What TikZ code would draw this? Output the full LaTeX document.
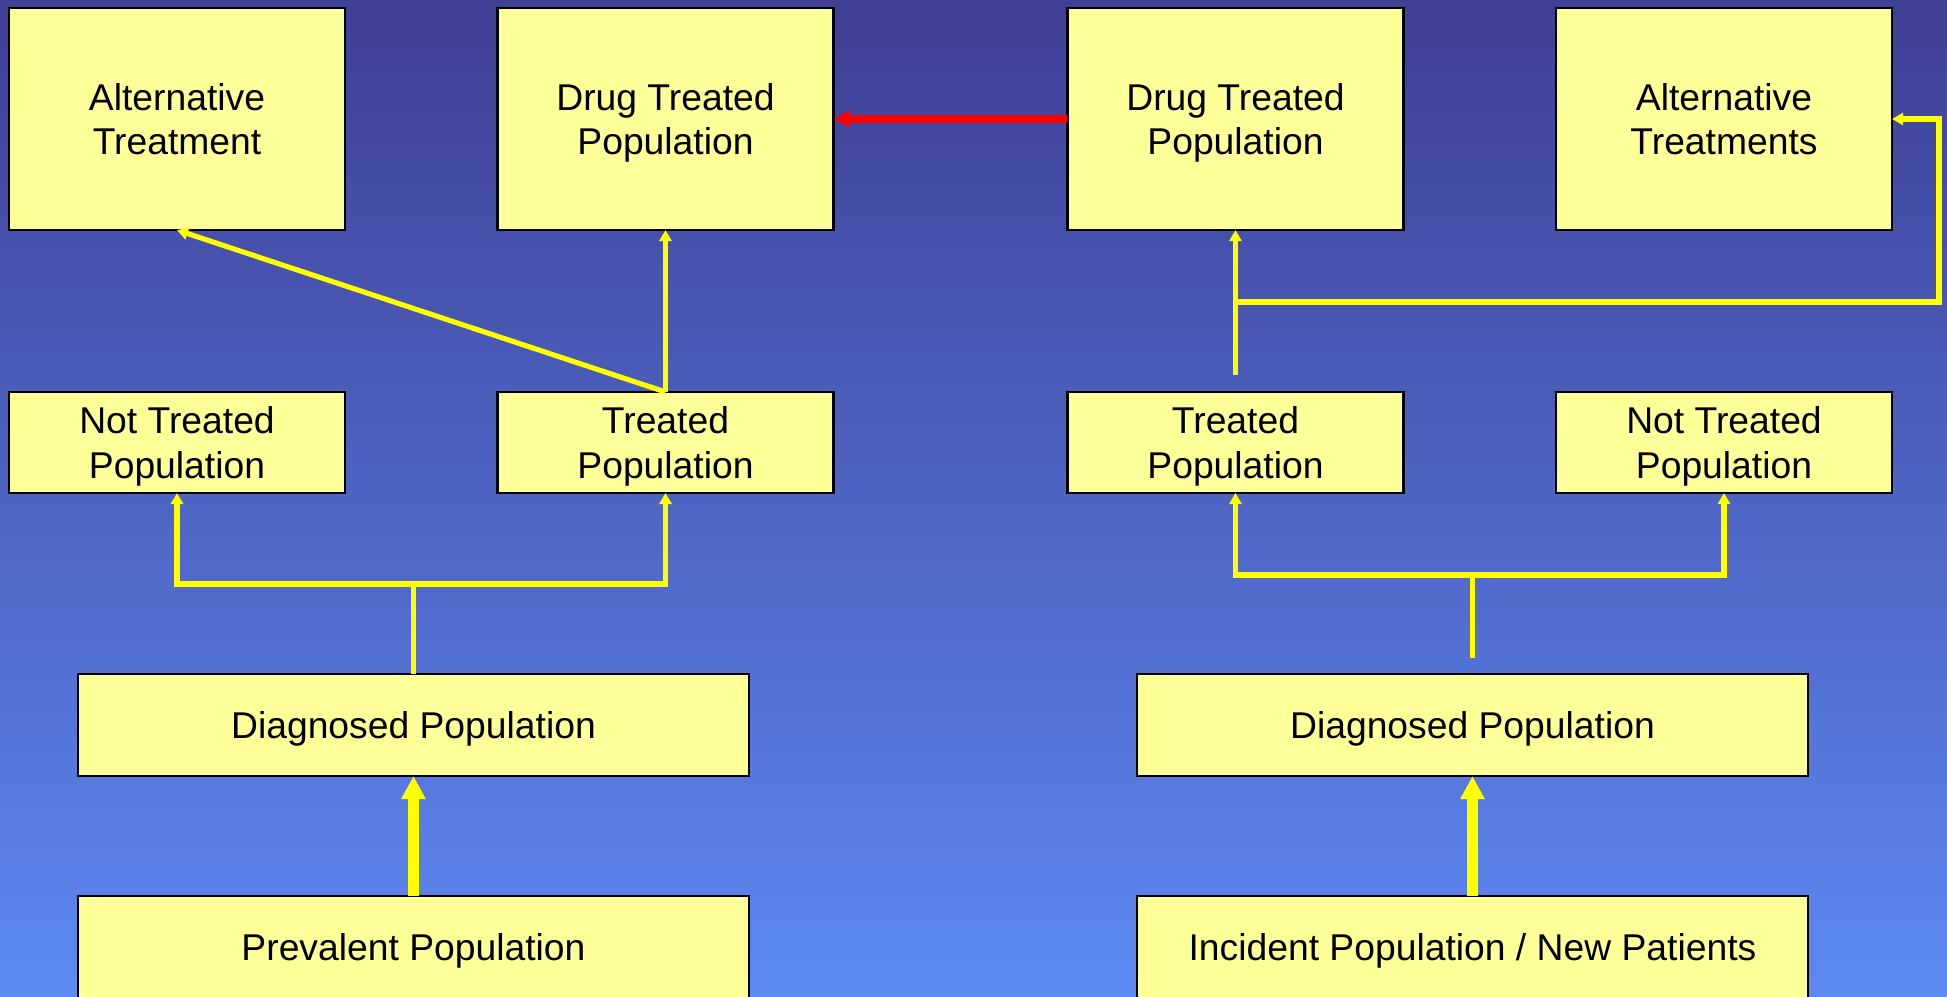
\documentclass[tikz,border=0pt]{standalone}
\usepackage{fontspec}
\setmainfont{Liberation Sans}
\usetikzlibrary{arrows.meta}
\definecolor{bgtop}{RGB}{63,63,148}
\definecolor{bgbottom}{RGB}{93,137,243}
\definecolor{boxfill}{RGB}{255,255,153}
\definecolor{flowyellow}{RGB}{255,255,0}
\definecolor{flowred}{RGB}{255,0,0}
\begin{document}
\begin{tikzpicture}[x=0.01cm,y=-0.01cm,
  popbox/.style={draw=black,line width=0.7pt,fill=boxfill,align=center,
    font=\fontsize{10.6pt}{12.7pt}\selectfont,inner sep=0pt,outer sep=0pt,
    text depth=0pt},
  bigbox/.style={popbox,minimum width=3.36cm,minimum height=2.22cm},
  midbox/.style={popbox,minimum width=3.36cm,minimum height=1.01cm},
  widebox/.style={popbox,minimum width=6.71cm,minimum height=1.02cm},
  conn/.style={draw=flowyellow,line width=1.45pt,line join=miter},
  tip/.style={-{Triangle[length=0.11cm,width=0.12cm]}},
  fatarrow/.style={draw=flowyellow,line width=3.4pt,-{Triangle[length=0.23cm,width=0.23cm]}},
  redarrow/.style={draw=flowred,line width=2.3pt,-{Triangle[length=0.16cm,width=0.16cm]}}]

% background
\useasboundingbox (0,0) rectangle (1947,996);
\shade[top color=bgtop,bottom color=bgbottom] (0,0) rectangle (1947,996);

% prevalent side
\node[bigbox]  (alt1)   at (177,119)    {Alternative\\Treatment};
\node[bigbox]  (drug1)  at (665.5,119)  {Drug Treated\\Population};
\node[midbox]  (not1)   at (177,442.5)  {Not Treated\\Population};
\node[midbox]  (treat1) at (665.5,442.5){Treated\\Population};
\node[widebox] (diag1)  at (413.5,725)  {Diagnosed Population};
\node[widebox] (prev1)  at (413.5,947)  {Prevalent Population};

% incident side
\node[bigbox]  (drug2)  at (1235.5,119) {Drug Treated\\Population};
\node[bigbox]  (alt2)   at (1724,119)   {Alternative\\Treatments};
\node[midbox]  (treat2) at (1235.5,442.5){Treated\\Population};
\node[midbox]  (not2)   at (1724,442.5) {Not Treated\\Population};
\node[widebox] (diag2)  at (1472.5,725) {Diagnosed Population};
\node[widebox] (inc2)   at (1472.5,947) {Incident Population / New Patients};

% junction points
\coordinate (j1) at (413.5,584);
\coordinate (j2) at (1472.5,575);
\coordinate (f2) at (1472.5,658);
\coordinate (f3) at (1235.5,375);
\coordinate (b3) at (1235.5,302);
\coordinate (c3) at (1939,302);

% prevalent side connectors
\draw[fatarrow] (prev1.north) -- (diag1.south);
\draw[conn] (diag1.north) -- (j1);
\draw[conn,tip] (j1) -| (not1.south);
\draw[conn,tip] (j1) -| (treat1.south);
\draw[conn,tip] (treat1.north) -- (drug1.south);
\draw[conn,tip] (treat1.north) -- (alt1.south);

% incident side connectors
\draw[fatarrow] (inc2.north) -- (diag2.south);
\draw[conn] (f2) -- (j2);
\draw[conn,tip] (j2) -| (treat2.south);
\draw[conn,tip] (j2) -| (not2.south);
\draw[conn,tip] (f3) -- (drug2.south);
\draw[conn,tip] (b3) -- (c3) |- (alt2.east);

% link between the two drug-treated populations
\draw[redarrow] (drug2.west) -- (drug1.east);
\end{tikzpicture}
\end{document}
